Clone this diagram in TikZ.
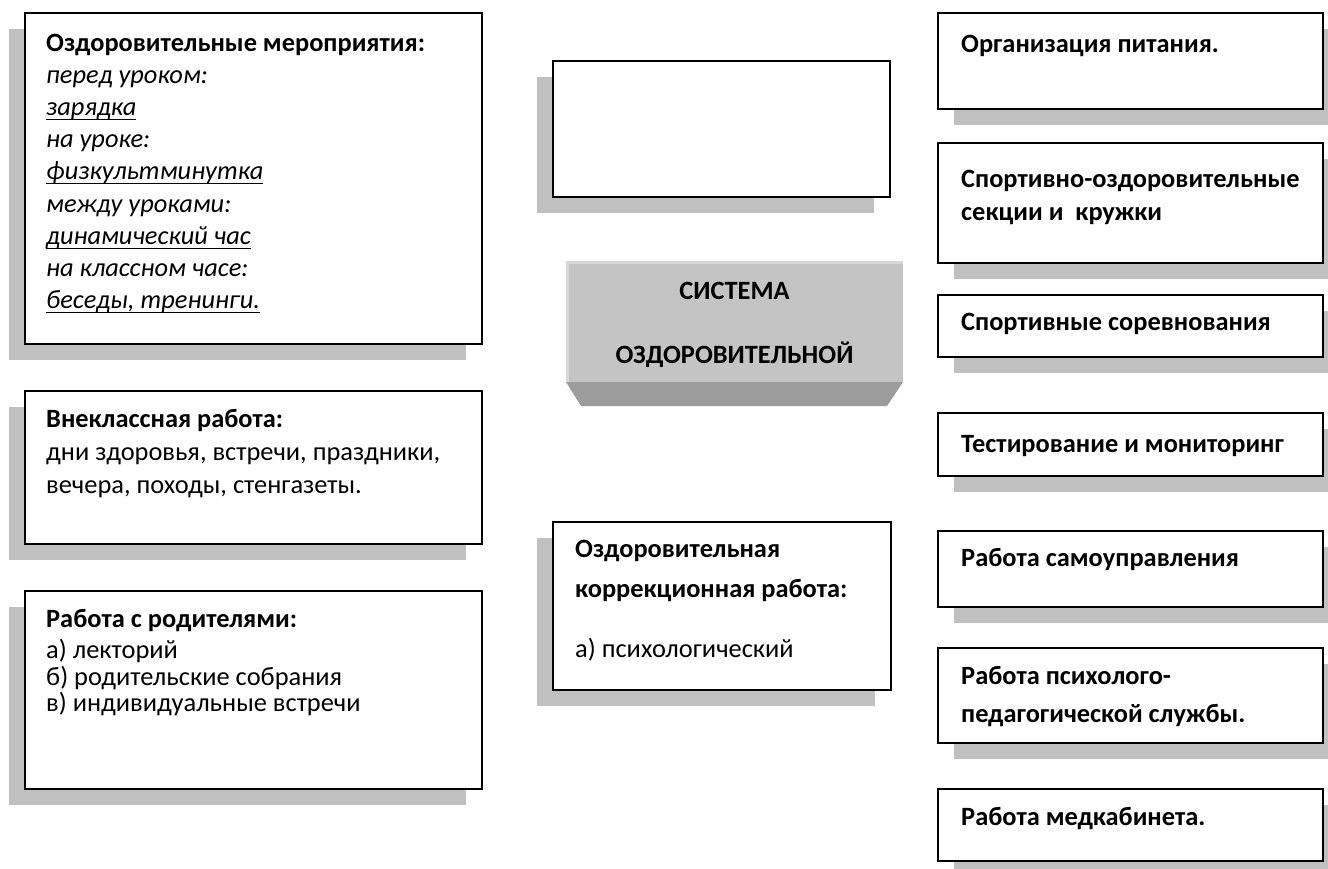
\documentclass[tikz,border=0pt]{standalone}
\usepackage{fontspec}
\setmainfont{Carlito}
\usetikzlibrary{shadows}
\definecolor{shc}{HTML}{C0C0C0}
\definecolor{facec}{HTML}{C4C4C4}
\definecolor{bevelc}{HTML}{9C9C9C}
\definecolor{hilite}{HTML}{D8D8D8}
\newcommand\myuline[1]{\setbox0\hbox{#1}\rlap{\rule[-5pt]{\wd0}{1.5pt}}\box0}
\begin{document}
\begin{tikzpicture}[x=1pt,y=-1pt,
  boxbase/.style={draw=black,line width=1.8pt,fill=white,inner sep=0pt,outer sep=0pt},
  lbox/.style={boxbase,general shadow={shadow xshift=-16pt,shadow yshift=-16pt,fill=shc}},
  rbox/.style={boxbase,general shadow={shadow xshift=16pt,shadow yshift=-16pt,fill=shc}},
  txt/.style={anchor=base west,inner sep=0pt,font=\fontsize{26.4}{30}\selectfont},
  btxt/.style={txt,font=\fontsize{26.4}{30}\selectfont\bfseries},
  itxt/.style={txt,font=\fontsize{26.4}{30}\selectfont\itshape},
  ctxt/.style={anchor=base,inner sep=0pt,font=\fontsize{26.4}{30}\selectfont\bfseries}]
\useasboundingbox (0,0) rectangle (1328,868);
\clip (0,0) rectangle (1328,868);
% left column
\node[lbox,minimum width=457,minimum height=331] (b1) at (253.5,178.5) {};
\node[btxt] (b1t0) at (46,51) {Оздоровительные мероприятия:};
\node[itxt] (b1t1) at (46,83) {перед уроком:};
\node[itxt] (b1t2) at (46,115) {\myuline{зарядка}};
\node[itxt] (b1t3) at (46,147) {на уроке:};
\node[itxt] (b1t4) at (46,179) {\myuline{физкультминутка}};
\node[itxt] (b1t5) at (46,212) {между уроками:};
\node[itxt] (b1t6) at (46,244) {\myuline{динамический час}};
\node[itxt] (b1t7) at (46,276) {на классном часе:};
\node[itxt] (b1t8) at (46,308) {\myuline{беседы, тренинги.}};

\node[lbox,minimum width=457,minimum height=153] (b2) at (253.5,467.5) {};
\node[btxt] (b2t0) at (46,427) {Внеклассная работа:};
\node[txt] (b2t1) at (46,460) {дни здоровья, встречи, праздники,};
\node[txt] (b2t2) at (46,493) {вечера, походы, стенгазеты.};

\node[lbox,minimum width=457,minimum height=198] (b3) at (253.5,690) {};
\node[btxt] (b3t0) at (46,627) {Работа с родителями:};
\node[txt] (b3t1) at (46,658) {а) лекторий};
\node[txt] (b3t2) at (46,685) {б) родительские собрания};
\node[txt] (b3t3) at (46,711) {в) индивидуальные встречи};

% centre column
\node[lbox,minimum width=337,minimum height=136] (c1) at (721.5,129) {};

\coordinate (fa) at (566,261);
\coordinate (fb) at (903,261);
\coordinate (fc) at (903,382);
\coordinate (fd) at (566,382);
\coordinate (ge) at (887,406);
\coordinate (gf) at (581,406);
\fill[facec] (fa) -- (fb) -- (fc) -- (fd) -- cycle;
\fill[bevelc] (fd) -- (fc) -- (ge) -- (gf) -- cycle;
\draw[hilite,line width=2.5pt] (567.25,382) -- (567.25,262.25) -- (903,262.25);
\node[ctxt] (sys1) at (734.5,299) {СИСТЕМА};
\node[ctxt] (sys2) at (734.5,363) {ОЗДОРОВИТЕЛЬНОЙ};

\node[lbox,minimum width=338,minimum height=168] (c2) at (722,606) {};
\node[btxt] (c2t0) at (575,557) {Оздоровительная};
\node[btxt] (c2t1) at (575,597) {коррекционная работа:};
\node[txt] (c2t2) at (575,657) {а) психологический};

% right column
\node[rbox,minimum width=385,minimum height=96] (r1) at (1130.5,61) {};
\node[btxt] (r1t) at (961,52) {Организация питания.};
\node[rbox,minimum width=385,minimum height=120] (r2) at (1130.5,203) {};
\node[btxt] (r2t0) at (961,187) {Спортивно-оздоровительные};
\node[btxt] (r2t1) at (961,220) {секции и\ \ кружки};
\node[rbox,minimum width=385,minimum height=62] (r3) at (1130.5,326) {};
\node[btxt] (r3t) at (961,330) {Спортивные соревнования};
\node[rbox,minimum width=385,minimum height=63] (r4) at (1130.5,444.5) {};
\node[btxt] (r4t) at (961,452) {Тестирование и мониторинг};
\node[rbox,minimum width=385,minimum height=76] (r5) at (1130.5,569) {};
\node[btxt] (r5t) at (961,566) {Работа самоуправления};
\node[rbox,minimum width=385,minimum height=95] (r6) at (1130.5,695.5) {};
\node[btxt] (r6t0) at (961,684) {Работа психолого-};
\node[btxt] (r6t1) at (961,722) {педагогической службы.};
\node[rbox,minimum width=385,minimum height=72] (r7) at (1130.5,825) {};
\node[btxt] (r7t) at (961,825) {Работа медкабинета.};
\end{tikzpicture}
\end{document}
